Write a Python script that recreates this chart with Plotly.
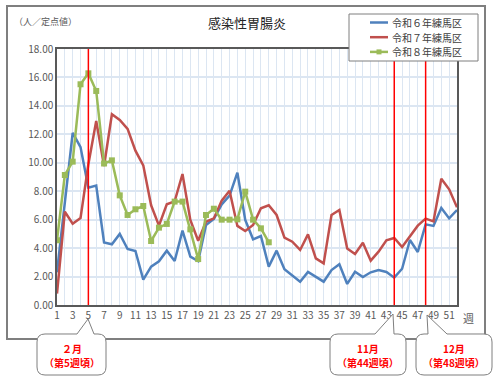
import plotly.graph_objects as go

weeks = list(range(1, 53))

r6_values = [2.3, 7.2, 12.1, 11.1, 8.25, 8.4, 4.4, 4.27, 5.0, 3.94, 3.8, 1.78, 2.7, 3.07, 3.82, 3.09,
             5.23, 3.4, 3.09, 5.63, 6.05, 7.08, 7.69, 9.31, 5.98, 4.62, 4.85, 2.7, 3.82, 2.51, 2.09, 1.64,
             2.32, 2.0, 1.64, 2.46, 2.86, 1.48, 2.34, 1.97, 2.3, 2.46, 2.32, 1.92, 2.55, 4.57, 3.73, 5.67,
             5.56, 6.82, 6.09, 6.68]

r7_values = [0.8, 6.56, 5.72, 6.12, 9.9, 12.94, 9.77, 13.41, 13.01, 12.38, 10.85, 9.82, 7.01, 5.58, 7.08, 7.29,
             9.21, 5.98, 4.52, 5.86, 6.09, 7.34, 8.04, 5.56, 5.2, 5.63, 6.8, 7.01, 6.33, 4.74, 4.45, 3.87,
             4.97, 3.28, 2.93, 6.33, 6.68, 3.98, 3.59, 4.38, 3.12, 3.75, 4.55, 4.71, 4.08, 4.85, 5.58, 6.07,
             5.88, 8.88, 8.13, 6.87]

r8_weeks = list(range(1, 29))
r8_values = [4.55, 9.14, 10.08, 15.52, 16.29, 15.05, 9.95, 10.17, 7.71, 6.33, 6.73, 6.96, 4.5, 5.44, 5.7, 7.27,
             7.27, 5.32, 3.23, 6.33, 6.77, 6.0, 6.0, 6.02, 7.97, 6.0, 5.39, 4.41]

series_names = ["令和６年練馬区", "令和７年練馬区", "令和８年練馬区"]
series_colors = ["#4f81bd", "#c0504d", "#9bbb59"]
marker_weeks = [5, 44, 48]
callout_titles = ["２月", "11月", "12月"]
callout_subs = ["（第5週頃）", "（第44週頃）", "（第48週頃）"]
x_tick_vals = list(range(1, 53, 2))
y_tick_vals = list(range(0, 19, 2))

# plot area in pixels
L, R, T, B = 57, 457, 49, 305
W, H = 500, 382


def px(x):
    return (x - L) / (R - L)


def py(y):
    return (B - y) / (B - T)


fig = go.Figure()
fig.add_trace(go.Scatter(x=weeks, y=r6_values, mode="lines", name=series_names[0],
                         line=dict(color=series_colors[0], width=2.5)))
fig.add_trace(go.Scatter(x=weeks, y=r7_values, mode="lines", name=series_names[1],
                         line=dict(color=series_colors[1], width=2.5)))
fig.add_trace(go.Scatter(x=r8_weeks, y=r8_values, mode="lines+markers", name=series_names[2],
                         line=dict(color=series_colors[2], width=2.5),
                         marker=dict(symbol="square", size=6, color=series_colors[2])))

shapes = []
annotations = []
# outer frame
shapes.append(dict(type="rect", xref="paper", yref="paper", x0=px(7), x1=px(485), y0=py(339), y1=py(6),
                   line=dict(color="#7f7f7f", width=2), fillcolor="rgba(0,0,0,0)", layer="below"))
# red week markers
for wk in marker_weeks:
    shapes.append(dict(type="line", xref="x", yref="paper", x0=wk, x1=wk, y0=0, y1=1,
                       line=dict(color="#ff0000", width=1.5), layer="above"))

# legend box (drawn manually to match compact row spacing)
shapes.append(dict(type="rect", xref="paper", yref="paper", x0=px(349), x1=px(478), y0=py(61), y1=py(14),
                   line=dict(color="#7f7f7f", width=1), fillcolor="white", layer="above"))
for i, name in enumerate(series_names):
    yy = 22.5 + 14.7 * i
    shapes.append(dict(type="line", xref="paper", yref="paper", x0=px(370), x1=px(388), y0=py(yy), y1=py(yy),
                       line=dict(color=series_colors[i], width=2.5), layer="above"))
    if i == 2:
        shapes.append(dict(type="rect", xref="paper", yref="paper", x0=px(376.5), x1=px(381.5),
                           y0=py(yy + 2.5), y1=py(yy - 2.5), line=dict(width=0),
                           fillcolor=series_colors[i], layer="above"))
    annotations.append(dict(xref="paper", yref="paper", x=px(390), y=py(yy), xanchor="left", yanchor="middle",
                            text=name, showarrow=False,
                            font=dict(size=10, color="#404040", family="Noto Sans CJK JP")))


def callout_path(x0, y0, x1, y1, bl, tip, br, r=8):
    def P(x, y):
        return f"{px(x):.5f},{py(y):.5f}"
    s = f"M {P(x0 + r, y0)} L {P(bl, y0)} L {P(tip[0], tip[1])} L {P(br, y0)} L {P(x1 - r, y0)} "
    s += f"Q {P(x1, y0)} {P(x1, y0 + r)} L {P(x1, y1 - r)} Q {P(x1, y1)} {P(x1 - r, y1)} "
    s += f"L {P(x0 + r, y1)} Q {P(x0, y1)} {P(x0, y1 - r)} L {P(x0, y0 + r)} Q {P(x0, y0)} {P(x0 + r, y0)} Z"
    return s


callouts = [
    (37, 334, 106, 375, 77, (88, 319), 94),
    (330, 334, 406, 375, 375, (393, 314), 394),
    (416, 334, 492, 375, 428, (427, 315), 447),
]
for i, (x0, y0, x1, y1, bl, tip, br) in enumerate(callouts):
    shapes.append(dict(type="path", xref="paper", yref="paper", path=callout_path(x0, y0, x1, y1, bl, tip, br),
                       line=dict(color="#7f7f7f", width=1), fillcolor="white", layer="above"))
    cx = (x0 + x1) / 2
    annotations.append(dict(xref="paper", yref="paper", x=px(cx), y=py(348), xanchor="center", yanchor="middle",
                            text=f"<b>{callout_titles[i]}</b>", showarrow=False,
                            font=dict(size=10, color="#ff0000", family="Noto Sans CJK JP")))
    annotations.append(dict(xref="paper", yref="paper", x=px(cx), y=py(362), xanchor="center", yanchor="middle",
                            text=f"<b>{callout_subs[i]}</b>", showarrow=False,
                            font=dict(size=10, color="#ff0000", family="Noto Sans CJK JP")))

annotations.append(dict(xref="paper", yref="paper", x=px(247), y=py(22), xanchor="center", yanchor="middle",
                        text="感染性胃腸炎", showarrow=False,
                        font=dict(size=13, color="#262626", family="Noto Sans CJK JP")))
annotations.append(dict(xref="paper", yref="paper", x=px(12), y=py(21), xanchor="left", yanchor="middle",
                        text="（人／定点値）", showarrow=False,
                        font=dict(size=9, color="#595959", family="Noto Sans CJK JP")))
annotations.append(dict(xref="paper", yref="paper", x=px(468), y=py(318), xanchor="center", yanchor="middle",
                        text="週", showarrow=False,
                        font=dict(size=11, color="#595959", family="Noto Sans CJK JP")))

grid_color = "#dce6f2"
fig.update_layout(
    width=W, height=H,
    margin=dict(l=L, r=W - R, t=T, b=H - B, autoexpand=False),
    paper_bgcolor="white", plot_bgcolor="white",
    font=dict(family="Noto Sans CJK JP", color="#595959", size=10),
    showlegend=False,
    shapes=shapes,
    annotations=annotations,
    xaxis=dict(range=[1, 52], tickvals=x_tick_vals, showgrid=True, gridcolor=grid_color, gridwidth=1,
               minor=dict(dtick=1, tick0=0, showgrid=True, gridcolor=grid_color, gridwidth=1),
               showline=True, linecolor="#595959", linewidth=1.5, mirror=True, zeroline=False,
               ticks="", tickfont=dict(size=10, color="#595959")),
    yaxis=dict(range=[0, 18], tickvals=y_tick_vals, tickformat=".2f", showgrid=True, gridcolor=grid_color,
               gridwidth=1.5, showline=True, linecolor="#595959", linewidth=1.5, mirror=True, zeroline=False,
               ticks="", tickfont=dict(size=10, color="#595959")),
)

fig.write_html("out.html")
